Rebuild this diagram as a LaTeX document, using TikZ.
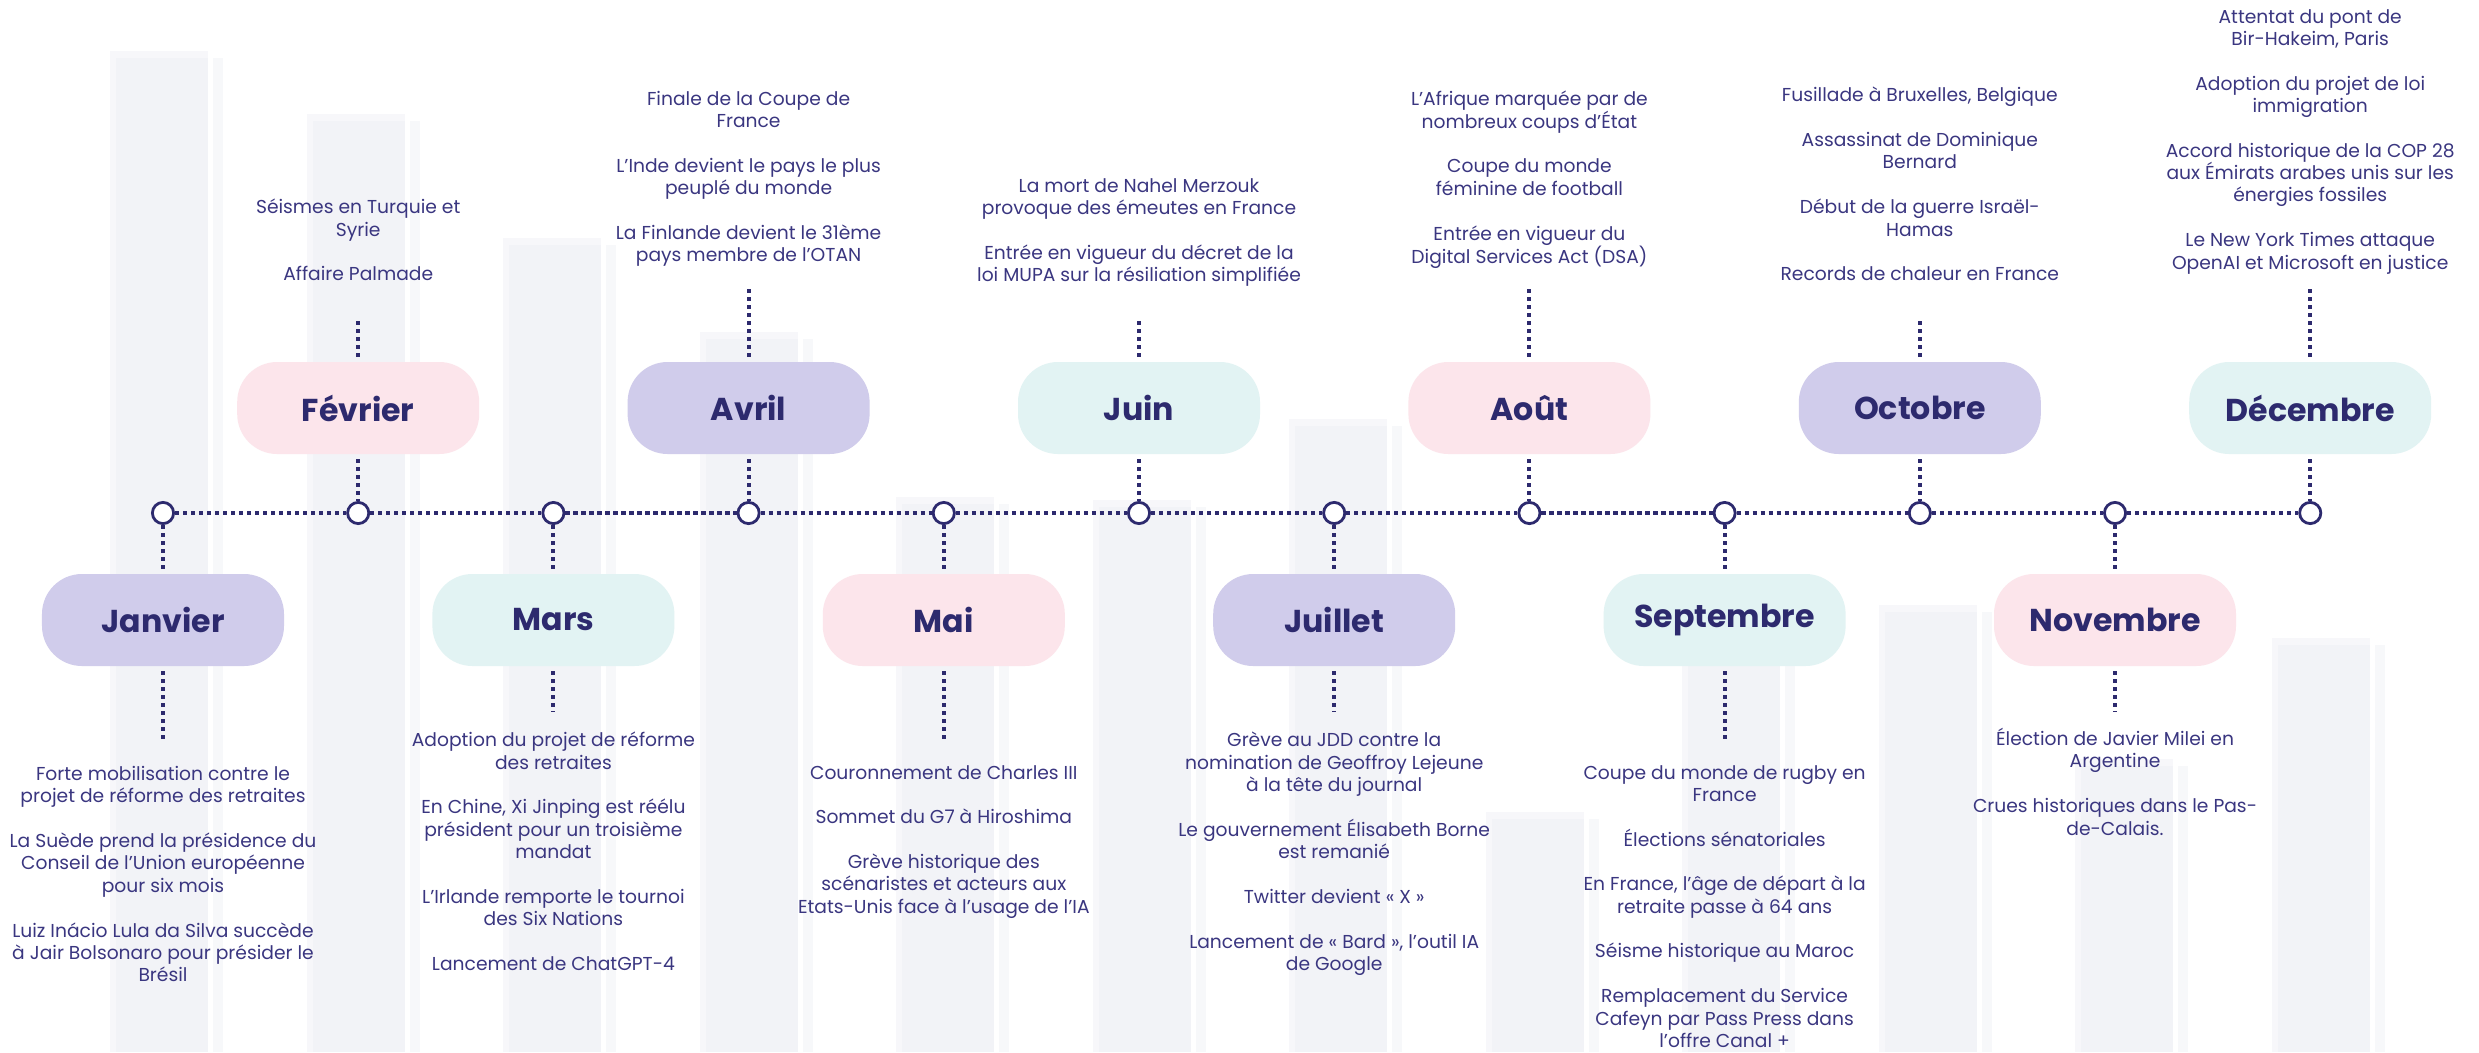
\documentclass[tikz,border=0pt]{standalone}
\usepackage{fontspec}
\setmainfont{Poppins}
\usepackage{xcolor}
\definecolor{tlnavy}{HTML}{2D2A6E}
\definecolor{evtext}{HTML}{3A3680}
\definecolor{lav}{HTML}{D0CCEB}
\definecolor{rose}{HTML}{FCE5EB}
\definecolor{mint}{HTML}{E2F3F3}
\definecolor{barout}{HTML}{F7F7FA}
\definecolor{barin}{HTML}{F2F3F7}
\definecolor{baredge}{HTML}{F7F8FA}
\tikzset{
  month/.style={rectangle,rounded corners=10mm,minimum width=60.5mm,minimum height=23mm,inner sep=0pt,text=tlnavy,font=\fontsize{22.5pt}{26pt}\selectfont\bfseries},
  tick/.style={circle,fill=white,draw=tlnavy,line width=0.7mm,minimum size=5.3mm,inner sep=0pt},
  events/.style={align=center,inner sep=0pt,anchor=north,text=evtext,font=\fontsize{13.3pt}{15.9pt}\selectfont},
  tl-dots/.style={draw=tlnavy,line width=1mm,dash pattern=on 1.05mm off 0.95mm},
  stub/.style={tl-dots,shorten <=1.2mm},
  bar-out/.style={fill=barout},
  bar-in/.style={fill=barin},
  bar-edge/.style={fill=baredge}
}

\begin{document}
\begin{tikzpicture}[x=0.25mm,y=-0.25mm]
\useasboundingbox[fill=white] (0,0) rectangle (2479,1052);
\clip (0,0) rectangle (2479,1052);
\fill[bar-out] (110,51) rectangle (208,1052);
\fill[bar-in] (116,58) rectangle (208,1052);
\fill[bar-edge] (213,58) rectangle (223,1052);
\fill[bar-out] (306.5,114) rectangle (404.5,1052);
\fill[bar-in] (312.5,121) rectangle (404.5,1052);
\fill[bar-edge] (409.5,121) rectangle (419.5,1052);
\fill[bar-out] (503,238) rectangle (601,1052);
\fill[bar-in] (509,245) rectangle (601,1052);
\fill[bar-edge] (606,245) rectangle (616,1052);
\fill[bar-out] (699.5,332) rectangle (797.5,1052);
\fill[bar-in] (705.5,339) rectangle (797.5,1052);
\fill[bar-edge] (802.5,339) rectangle (812.5,1052);
\fill[bar-out] (896,497) rectangle (994,1052);
\fill[bar-in] (902,504) rectangle (994,1052);
\fill[bar-edge] (999,504) rectangle (1009,1052);
\fill[bar-out] (1092.5,500) rectangle (1190.5,1052);
\fill[bar-in] (1098.5,507) rectangle (1190.5,1052);
\fill[bar-edge] (1195.5,507) rectangle (1205.5,1052);
\fill[bar-out] (1289,419) rectangle (1387,1052);
\fill[bar-in] (1295,426) rectangle (1387,1052);
\fill[bar-edge] (1392,426) rectangle (1402,1052);
\fill[bar-out] (1485.5,812) rectangle (1583.5,1052);
\fill[bar-in] (1491.5,819) rectangle (1583.5,1052);
\fill[bar-edge] (1588.5,819) rectangle (1598.5,1052);
\fill[bar-out] (1682,600) rectangle (1780,1052);
\fill[bar-in] (1688,607) rectangle (1780,1052);
\fill[bar-edge] (1785,607) rectangle (1795,1052);
\fill[bar-out] (1878.5,605) rectangle (1976.5,1052);
\fill[bar-in] (1884.5,612) rectangle (1976.5,1052);
\fill[bar-edge] (1981.5,612) rectangle (1991.5,1052);
\fill[bar-out] (2075,759) rectangle (2173,1052);
\fill[bar-in] (2081,766) rectangle (2173,1052);
\fill[bar-edge] (2178,766) rectangle (2188,1052);
\fill[bar-out] (2271.5,638) rectangle (2369.5,1052);
\fill[bar-in] (2277.5,645) rectangle (2369.5,1052);
\fill[bar-edge] (2374.5,645) rectangle (2384.5,1052);

\node[tick] (c-jan) at (163,513) {};
\node[tick] (c-feb) at (358.2,513) {};
\node[tick] (c-mar) at (553.4,513) {};
\node[tick] (c-apr) at (748.6,513) {};
\node[tick] (c-may) at (943.8,513) {};
\node[tick] (c-jun) at (1139,513) {};
\node[tick] (c-jul) at (1334.2,513) {};
\node[tick] (c-aug) at (1529.4,513) {};
\node[tick] (c-sep) at (1724.6,513) {};
\node[tick] (c-oct) at (1919.8,513) {};
\node[tick] (c-nov) at (2115,513) {};
\node[tick] (c-dec) at (2310.2,513) {};

\node[month,fill=lav] (m-jan) at (163,620) {Janvier};
\node[month,fill=rose] (m-feb) at (358.2,408) {Février};
\node[month,fill=mint] (m-mar) at (553.4,620) {Mars};
\node[month,fill=lav] (m-apr) at (748.6,408) {Avril};
\node[month,fill=rose] (m-may) at (943.8,620) {Mai};
\node[month,fill=mint] (m-jun) at (1139,408) {Juin};
\node[month,fill=lav] (m-jul) at (1334.2,620) {Juillet};
\node[month,fill=rose] (m-aug) at (1529.4,408) {Août};
\node[month,fill=mint] (m-sep) at (1724.6,620) {Septembre};
\node[month,fill=lav] (m-oct) at (1919.8,408) {Octobre};
\node[month,fill=rose] (m-nov) at (2115,620) {Novembre};
\node[month,fill=mint] (m-dec) at (2310.2,408) {Décembre};

\coordinate (e-jan) at (163,741);
\coordinate (e-feb) at (358.2,319);
\coordinate (e-mar) at (553.4,712);
\coordinate (e-apr) at (748.6,287);
\coordinate (e-may) at (943.8,741);
\coordinate (e-jun) at (1139,319);
\coordinate (e-jul) at (1334.2,712);
\coordinate (e-aug) at (1529.4,287);
\coordinate (e-sep) at (1724.6,741);
\coordinate (e-oct) at (1919.8,319);
\coordinate (e-nov) at (2115,712);
\coordinate (e-dec) at (2310.2,287);

\node[events] (t-jan) at (163,766) {Forte mobilisation contre le\\projet de réforme des retraites\\[15.9pt]La Suède prend la présidence du\\Conseil de l'Union européenne\\pour six mois\\[15.9pt]Luiz Inácio Lula da Silva succède\\à Jair Bolsonaro pour présider le\\Brésil};
\node[events] (t-feb) at (358.2,199) {Séismes en Turquie et\\Syrie\\[15.9pt]Affaire Palmade};
\node[events] (t-mar) at (553.4,732) {Adoption du projet de réforme\\des retraites\\[15.9pt]En Chine, Xi Jinping est réélu\\président pour un troisième\\mandat\\[15.9pt]L'Irlande remporte le tournoi\\des Six Nations\\[15.9pt]Lancement de ChatGPT-4};
\node[events] (t-apr) at (748.6,91) {Finale de la Coupe de\\France\\[15.9pt]L’Inde devient le pays le plus\\peuplé du monde\\[15.9pt]La Finlande devient le 31ème\\pays membre de l’OTAN};
\node[events] (t-may) at (943.8,765) {Couronnement de Charles III\\[15.9pt]Sommet du G7 à Hiroshima\\[15.9pt]Grève historique des\\scénaristes et acteurs aux\\Etats-Unis face à l’usage de l’IA};
\node[events] (t-jun) at (1139,178) {La mort de Nahel Merzouk\\provoque des émeutes en France\\[15.9pt]Entrée en vigueur du décret de la\\loi MUPA sur la résiliation simplifiée};
\node[events] (t-jul) at (1334.2,732) {Grève au JDD contre la\\nomination de Geoffroy Lejeune\\à la tête du journal\\[15.9pt]Le gouvernement Élisabeth Borne\\est remanié\\[15.9pt]Twitter devient « X »\\[15.9pt]Lancement de « Bard », l’outil IA\\de Google};
\node[events] (t-aug) at (1529.4,91) {L’Afrique marquée par de\\nombreux coups d’État\\[15.9pt]Coupe du monde\\féminine de football\\[15.9pt]Entrée en vigueur du\\Digital Services Act (DSA)};
\node[events] (t-sep) at (1724.6,765) {Coupe du monde de rugby en\\France\\[15.9pt]Élections sénatoriales\\[15.9pt]En France, l’âge de départ à la\\retraite passe à 64 ans\\[15.9pt]Séisme historique au Maroc\\[15.9pt]Remplacement du Service\\Cafeyn par Pass Press dans\\l’offre Canal +};
\node[events] (t-oct) at (1919.8,87) {Fusillade à Bruxelles, Belgique\\[15.9pt]Assassinat de Dominique\\Bernard\\[15.9pt]Début de la guerre Israël-\\Hamas\\[15.9pt]Records de chaleur en France};
\node[events] (t-nov) at (2115,728) {Élection de Javier Milei en\\Argentine\\[15.9pt]Crues historiques dans le Pas-\\de-Calais.};
\node[events] (t-dec) at (2310.2,9) {Attentat du pont de\\Bir-Hakeim, Paris\\[15.9pt]Adoption du projet de loi\\immigration\\[15.9pt]Accord historique de la COP 28\\aux Émirats arabes unis sur les\\énergies fossiles\\[15.9pt]Le New York Times attaque\\OpenAI et Microsoft en justice};

\draw[tl-dots] (c-jan.east) -- (c-feb.west) (c-feb.east) -- (c-mar.west) (c-mar.east) -- (c-apr.west)
  (c-apr.east) -- (c-may.west) (c-may.east) -- (c-jun.west) (c-jun.east) -- (c-jul.west)
  (c-jul.east) -- (c-aug.west) (c-aug.east) -- (c-sep.west) (c-sep.east) -- (c-oct.west)
  (c-oct.east) -- (c-nov.west) (c-nov.east) -- (c-dec.west);
\draw[stub] (m-jan.north) -- (c-jan.south);
\draw[stub] (m-feb.south) -- (c-feb.north);
\draw[stub] (m-mar.north) -- (c-mar.south);
\draw[stub] (m-apr.south) -- (c-apr.north);
\draw[stub] (m-may.north) -- (c-may.south);
\draw[stub] (m-jun.south) -- (c-jun.north);
\draw[stub] (m-jul.north) -- (c-jul.south);
\draw[stub] (m-aug.south) -- (c-aug.north);
\draw[stub] (m-sep.north) -- (c-sep.south);
\draw[stub] (m-oct.south) -- (c-oct.north);
\draw[stub] (m-nov.north) -- (c-nov.south);
\draw[stub] (m-dec.south) -- (c-dec.north);
\draw[stub] (m-jan.south) -- (e-jan);
\draw[stub] (m-feb.north) -- (e-feb);
\draw[stub] (m-mar.south) -- (e-mar);
\draw[stub] (m-apr.north) -- (e-apr);
\draw[stub] (m-may.south) -- (e-may);
\draw[stub] (m-jun.north) -- (e-jun);
\draw[stub] (m-jul.south) -- (e-jul);
\draw[stub] (m-aug.north) -- (e-aug);
\draw[stub] (m-sep.south) -- (e-sep);
\draw[stub] (m-oct.north) -- (e-oct);
\draw[stub] (m-nov.south) -- (e-nov);
\draw[stub] (m-dec.north) -- (e-dec);
\end{tikzpicture}
\end{document}
